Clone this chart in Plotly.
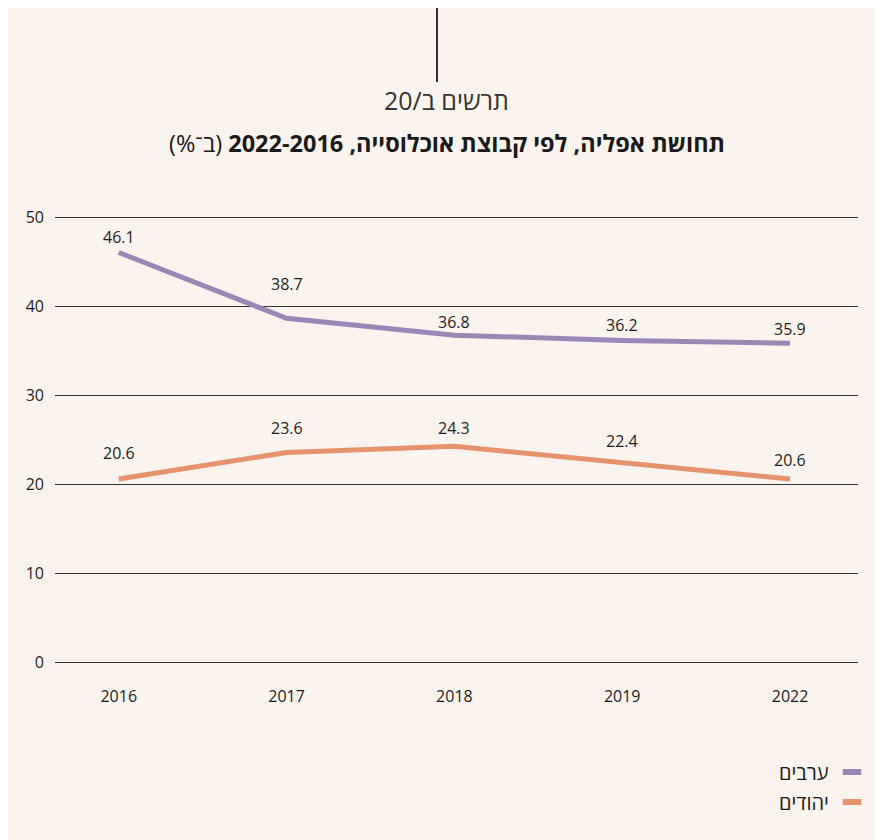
import plotly.graph_objects as go

years = ["2016", "2017", "2018", "2019", "2022"]
arabs = [46.1, 38.7, 36.8, 36.2, 35.9]
jews = [20.6, 23.6, 24.3, 22.4, 20.6]
series_names = ["ערבים", "יהודים"]
y_ticks = [0, 10, 20, 30, 40, 50]

title_bold = "תחושת אפליה, לפי קבוצת אוכלוסייה, 2022-2016"
title_rest = "(ב־%)"
subtitle = "תרשים ב/20"

PURPLE = "#9A87B5"
ORANGE = "#E5936E"
BG = "#FAF3EE"
FONT = "Open Sans, Noto Sans, DejaVu Sans, sans-serif"
RLM = "\u200f"

arab_shift = [16, 34, 13, 15, 14]
jew_shift = [26, 24, 18, 22, 19]

xi = list(range(len(years)))

fig = go.Figure()
fig.add_trace(go.Scatter(x=xi, y=arabs, mode="lines", name=series_names[0],
                         line=dict(color=PURPLE, width=5), showlegend=False,
                         hoverinfo="skip"))
fig.add_trace(go.Scatter(x=xi, y=jews, mode="lines", name=series_names[1],
                         line=dict(color=ORANGE, width=5), showlegend=False,
                         hoverinfo="skip"))

ann = []
for vals, shifts in ((arabs, arab_shift), (jews, jew_shift)):
    for x, v, s in zip(xi, vals, shifts):
        ann.append(dict(x=x, y=v, xref="x", yref="y", text=f"{v:.1f}",
                        showarrow=False, yshift=s,
                        font=dict(family=FONT, size=16, color="#1e1e1e")))


def paper_y(pix):
    # plot area spans 201..663 px vertically
    return (663 - pix) / 462.0


# titles
ann.append(dict(x=0.488, y=paper_y(135), xref="paper", yref="paper",
                text=RLM + "<b>" + title_bold + "</b> " + title_rest + RLM,
                showarrow=False, xanchor="center", yanchor="middle",
                font=dict(family=FONT, size=23.5, color="#1a1a1a")))
ann.append(dict(x=0.488, y=paper_y(92), xref="paper", yref="paper",
                text=RLM + subtitle + RLM, showarrow=False,
                xanchor="center", yanchor="middle",
                font=dict(family=FONT, size=25, color="#333")))

# manual legend (RTL: swatch on the right)
leg_y = [paper_y(764), paper_y(794)]
for name, col, ly in zip(series_names, [PURPLE, ORANGE], leg_y):
    ann.append(dict(x=0.966, y=ly, xref="paper", yref="paper", text=name,
                    showarrow=False, xanchor="right", yanchor="middle",
                    font=dict(family=FONT, size=20, color="#1a1a1a")))

shapes = [
    dict(type="line", xref="paper", yref="paper", x0=0.4757, x1=0.4757,
         y0=paper_y(-2), y1=paper_y(74), line=dict(color="#333", width=2)),
]
for col, ly in zip([PURPLE, ORANGE], leg_y):
    shapes.append(dict(type="line", xref="paper", yref="paper", x0=0.981,
                       x1=1.004, y0=ly, y1=ly, line=dict(color=col, width=6)))

fig.update_layout(
    width=883, height=840,
    margin=dict(l=47, r=33, t=201, b=177, autoexpand=False),
    paper_bgcolor=BG, plot_bgcolor=BG,
    annotations=ann, shapes=shapes,
    font=dict(family=FONT, size=16, color="#222"),
    xaxis=dict(range=[-0.38, 4.405], tickvals=xi, ticktext=years,
               showgrid=False, zeroline=False, showline=False, ticks="",
               tickfont=dict(family=FONT, size=16, color="#1e1e1e"),
               ticklabelstandoff=14),
    yaxis=dict(range=[-1, 51], tickvals=y_ticks, showgrid=True,
               gridcolor="#333", gridwidth=1.2, zeroline=False,
               showline=False, ticks="",
               tickfont=dict(family=FONT, size=16, color="#1e1e1e"),
               ticklabelstandoff=10),
)

fig.write_html("out.html")
